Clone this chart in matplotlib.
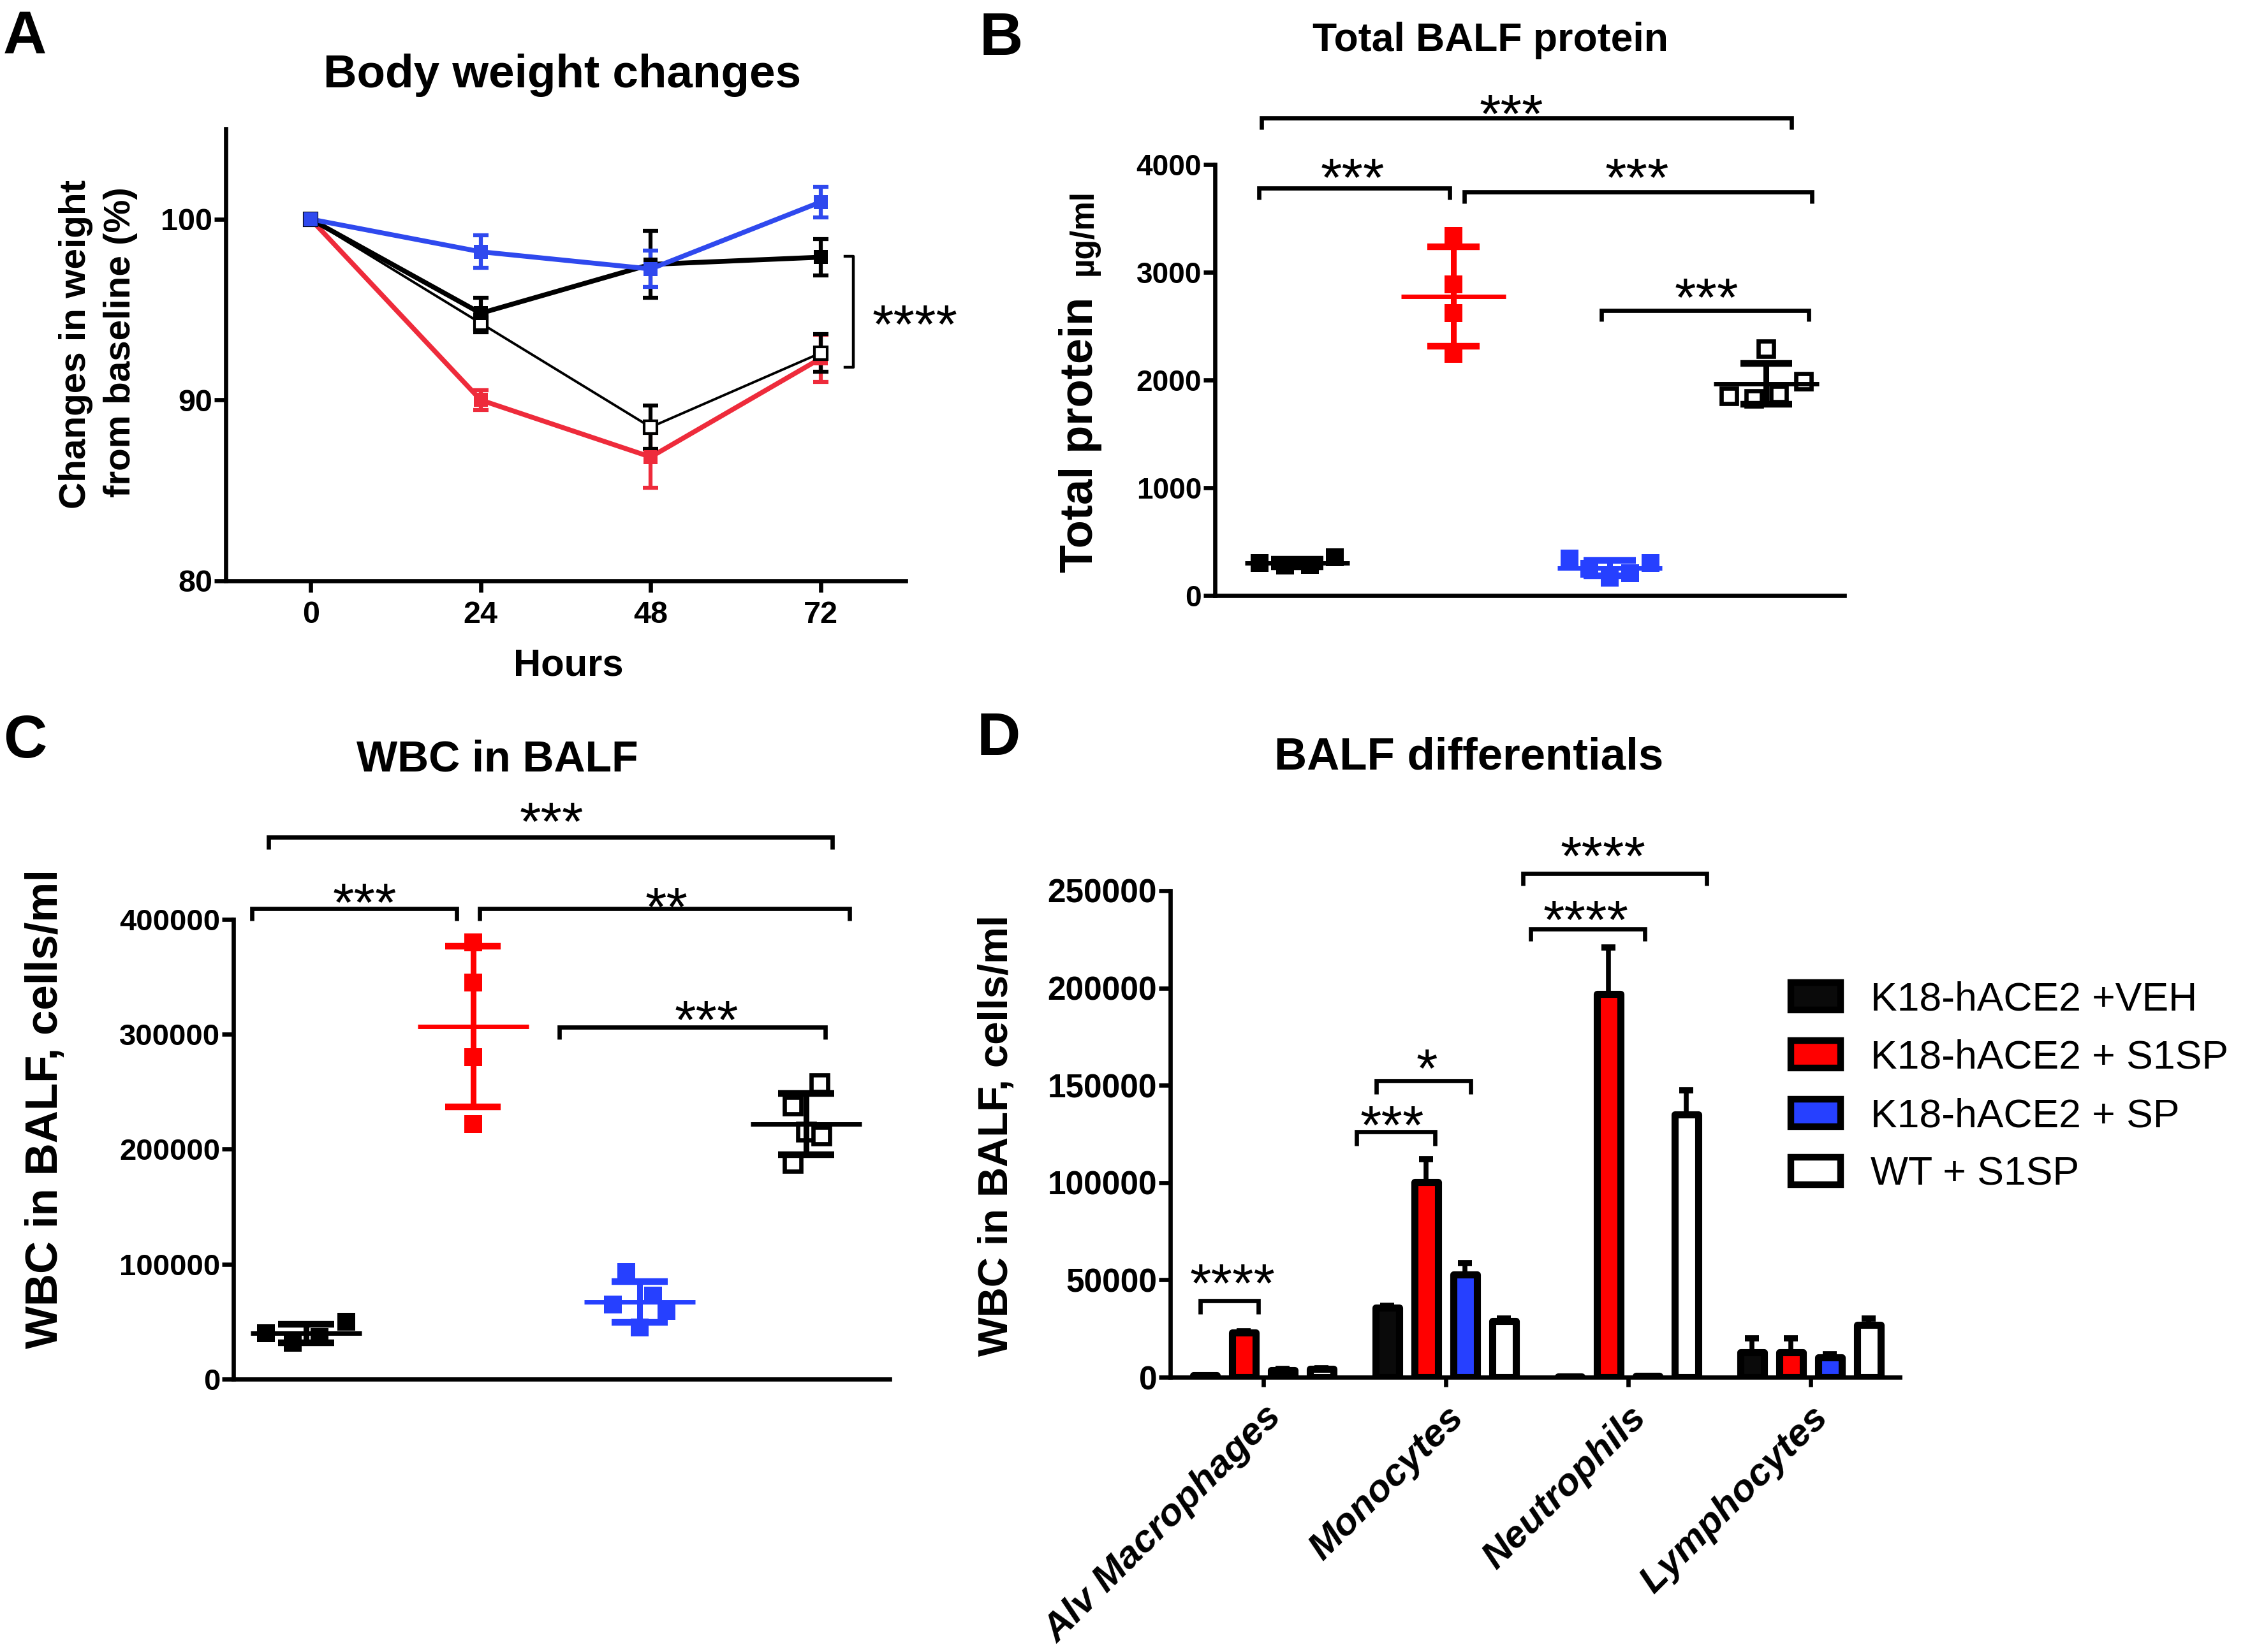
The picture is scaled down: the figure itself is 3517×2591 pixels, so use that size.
import numpy as np
import matplotlib
matplotlib.use("Agg")
import matplotlib.pyplot as plt
from matplotlib.patches import Patch

plt.rcParams['font.family'] = ['Liberation Sans', 'DejaVu Sans']
plt.rcParams['font.weight'] = 'bold'

# ---- data -------------------------------------------------------------
hours = [0, 24, 48, 72]
veh_w = [100, 94.8, 97.5, 97.9]
veh_we = [0, 0.85, 1.85, 1.0]
s1sp_w = [100, 90.0, 86.85, 92.3]
s1sp_we = [0, 0.55, 1.7, 1.3]
sp_w = [100, 98.2, 97.25, 100.95]
sp_we = [0, 0.9, 1.0, 0.85]
wt_w = [100, 94.25, 88.5, 92.6]
wt_we = [0, 0.5, 1.2, 1.05]

prot_veh = [300, 276, 284, 355]
prot_s1sp = [3340, 2890, 2620, 2245]
prot_sp = [346, 247, 168, 209, 302]
prot_wt = [2287, 1851, 1831, 1872, 1991]

wbc_veh = [40000, 31700, 36800, 50200]
wbc_s1sp = [380000, 345000, 280000, 222000]
wbc_sp = [93300, 65000, 72400, 59600, 44800]
wbc_wt = [257200, 237800, 215200, 211800, 187800]

# horizontal spread of the scatter points (as GraphPad draws them)
jit_b = [[-0.24, -0.08, 0.08, 0.24], [0, 0, 0, 0],
         [-0.26, -0.13, 0, 0.13, 0.26], [0, -0.24, -0.08, 0.08, 0.24]]
jit_c = [[-0.24, -0.08, 0.08, 0.24], [0, 0, 0, 0],
         [-0.08, -0.16, 0.08, 0.16, 0], [0.08, -0.08, 0, 0.09, -0.08]]

cells = ['Alv Macrophages', 'Monocytes', 'Neutrophils', 'Lymphocytes']
d_veh = [1000, 35600, 300, 12700]
d_veh_err = [0, 1200, 0, 7300]
d_s1sp = [23000, 100400, 197000, 12700]
d_s1sp_err = [600, 11600, 24000, 7300]
d_sp = [3600, 52800, 500, 10300]
d_sp_err = [600, 5800, 0, 1500]
d_wt = [4200, 28700, 135000, 27000]
d_wt_err = [500, 1600, 12500, 3000]

groups = ['K18-hACE2 +VEH', 'K18-hACE2 + S1SP', 'K18-hACE2 + SP', 'WT + S1SP']

RED_A = '#ee2b3b'
BLUE_A = '#2f49ee'
RED = '#ff0000'
BLUE = '#2640ff'

W, H = 3517, 2591
fig = plt.figure(figsize=(W / 100, H / 100), dpi=100)


def box(l, t, r, b):
    return [l / W, 1 - b / H, (r - l) / W, (b - t) / H]


def ftxt(x, y, s, **kw):
    return fig.text(x / W, 1 - y / H, s, **kw)


def style(ax, size):
    for s in ['top', 'right']:
        ax.spines[s].set_visible(False)
    for s in ['left', 'bottom']:
        ax.spines[s].set_linewidth(4.8)
    ax.tick_params(width=4.8, length=13, labelsize=size, pad=2)


def bracket(ax, x1, x2, y, yd):
    ax.plot([x1, x1, x2, x2], [yd, y, y, yd], color='k', lw=4.8,
            clip_on=False, solid_joinstyle='miter', solid_capstyle='butt')


def stars(ax, x, y, s, ha='center', size=62):
    ax.annotate(s, (x, y), xytext=(0, -0.575 * size), textcoords='offset points',
                ha=ha, va='baseline', fontsize=size, fontweight='normal',
                annotation_clip=False)


def dot_group(ax, g, vals, jit, color, hollow, ms, hw, cw):
    vals = np.asarray(vals, dtype=float)
    x = g + np.asarray(jit)
    if hollow:
        ax.plot(x, vals, 's', ms=ms, mfc='white', mec=color, mew=4.8, ls='none',
                zorder=3, clip_on=False)
    else:
        ax.plot(x, vals, 's', ms=ms, color=color, mew=0, ls='none', zorder=3,
                clip_on=False)
    m, s = vals.mean(), vals.std(ddof=1)
    ax.hlines(m, g - hw, g + hw, color=color, lw=5, zorder=4)
    ax.vlines(g, m - s, m + s, color=color, lw=6.5, zorder=4)
    ax.hlines([m - s, m + s], g - cw, g + cw, color=color, lw=7.5, zorder=4)


# ---- A: body weight ---------------------------------------------------
axA = fig.add_axes(box(354, 202, 1420, 911))
series = [(s1sp_w, s1sp_we, RED_A, False, 5.5), (wt_w, wt_we, 'k', True, 2.8),
          (veh_w, veh_we, 'k', False, 5.5), (sp_w, sp_we, BLUE_A, False, 5.5)]
for vals, err, c, hollow, lw in series:
    axA.plot(hours, vals, color=c, lw=lw, zorder=2)
    axA.errorbar(hours[1:], vals[1:], yerr=err[1:], fmt='none', ecolor=c,
                 elinewidth=4.5, capsize=8.5, capthick=4.5, zorder=3)
    if hollow:
        axA.plot(hours, vals, 's', ms=14, mfc='white', mec=c, mew=3, zorder=4)
    else:
        axA.plot(hours, vals, 's', ms=16, color=c, mew=0, zorder=4)
axA.set_xlim(-12, 84)
axA.set_ylim(80, 105)
axA.set_xticks(hours)
axA.set_yticks([80, 90, 100])
style(axA, 35)
axA.tick_params(axis='x', pad=9)
axA.plot([75.45, 76.6, 76.6, 75.45], [97.95, 97.95, 91.8, 91.8], color='k', lw=3.2,
         clip_on=False)
stars(axA, 79.3, 94.9, '****', ha='left')

ftxt(5, 84, 'A', fontsize=68, ha='left', va='baseline')
ftxt(882, 137, 'Body weight changes', fontsize=52.5, ha='center', va='baseline')
ftxt(134, 540, 'Changes in weight', fontsize=42, rotation=90, rotation_mode='anchor',
     ha='center', va='baseline')
ftxt(204, 537, 'from baseline (%)', fontsize=42, rotation=90, rotation_mode='anchor',
     ha='center', va='baseline')
ftxt(891, 1060, 'Hours', fontsize=43, ha='center', va='baseline')

# ---- B: total protein -------------------------------------------------
axB = fig.add_axes(box(1905, 258, 2892, 934))
prot = [prot_veh, prot_s1sp, prot_sp, prot_wt]
cols = ['k', RED, BLUE, 'k']
for i, vals in enumerate(prot):
    dot_group(axB, i + 1, vals, jit_b[i], cols[i], i == 3,
              17.5 if i == 3 else 19.5, 0.335, 0.167)
axB.set_xlim(0.473, 4.5)
axB.set_ylim(0, 4000)
axB.set_xticks([])
axB.set_yticks([0, 1000, 2000, 3000, 4000])
style(axB, 33)
bracket(axB, 0.771, 4.16, 4432, 4325)
stars(axB, 2.37, 4590, '***')
bracket(axB, 0.755, 1.976, 3781, 3677)
stars(axB, 1.355, 4000, '***')
bracket(axB, 2.07, 4.29, 3745, 3640)
stars(axB, 3.175, 4000, '***')
bracket(axB, 2.947, 4.27, 2647, 2545)
stars(axB, 3.62, 2885, '***')

ftxt(1536, 86, 'B', fontsize=68, ha='left', va='baseline')
ftxt(2337, 80, 'Total BALF protein', fontsize=45, ha='center', va='baseline')
ftxt(1713, 682, 'Total protein', fontsize=52, rotation=90, rotation_mode='anchor',
     ha='center', va='baseline')
ftxt(1713, 365, '\u00b5g/ml', fontsize=37, rotation=90, rotation_mode='anchor',
     ha='center', va='baseline')

# ---- C: WBC -----------------------------------------------------------
axC = fig.add_axes(box(366, 1442, 1395, 2163))
wbc = [wbc_veh, wbc_s1sp, wbc_sp, wbc_wt]
for i, vals in enumerate(wbc):
    dot_group(axC, i + 1, vals, jit_c[i], cols[i], i == 3,
              19 if i == 3 else 20, 0.333, 0.168)
axC.set_xlim(0.563, 4.5)
axC.set_ylim(0, 400000)
axC.set_xticks([])
axC.set_yticks([0, 100000, 200000, 300000, 400000])
style(axC, 34)
bracket(axC, 0.774, 4.155, 471700, 461000)
stars(axC, 2.47, 496000, '***')
bracket(axC, 0.675, 1.903, 409400, 398900)
stars(axC, 1.35, 426000, '***')
bracket(axC, 2.04, 4.26, 409400, 398900)
stars(axC, 3.16, 422000, '**')
bracket(axC, 2.52, 4.115, 306000, 295600)
stars(axC, 3.40, 324000, '***')

ftxt(5, 1188, 'C', fontsize=68, ha='left', va='baseline')
ftxt(780, 1209, 'WBC in BALF', fontsize=49, ha='center', va='baseline')
ftxt(90, 1739, 'WBC in BALF, cells/ml', fontsize=51, rotation=90,
     rotation_mode='anchor', ha='center', va='baseline')

# ---- D: differentials -------------------------------------------------
axD = fig.add_axes(box(1835, 1397, 2979, 2160))
xg = np.arange(len(cells))
bar_vals = [d_veh, d_s1sp, d_sp, d_wt]
bar_errs = [d_veh_err, d_s1sp_err, d_sp_err, d_wt_err]
fills = ['#0a0a0a', RED, BLUE, 'white']
offs = [-1.5, -0.5, 0.5, 1.5]
for k in range(4):
    xb = xg + offs[k] * 0.213
    axD.errorbar(xb, bar_vals[k], yerr=[np.zeros(4), bar_errs[k]], fmt='none',
                 ecolor='k', elinewidth=5.5, capsize=8, capthick=7, zorder=2)
    axD.bar(xb, bar_vals[k], width=0.13, color=fills[k], edgecolor='k',
            linewidth=8, joinstyle='round', zorder=3)
axD.set_xlim(-0.51, 3.49)
axD.set_ylim(0, 250000)
axD.set_yticks([0, 50000, 100000, 150000, 200000, 250000])
axD.set_xticks(xg)
style(axD, 37)
axD.tick_params(axis='x', length=11, pad=14)
axD.set_xticklabels(cells, rotation=45, ha='right', rotation_mode='anchor',
                    fontsize=43.5, fontstyle='italic')
bracket(axD, -0.344, -0.028, 39300, 32400)
stars(axD, -0.169, 54900, '****')
bracket(axD, 0.51, 0.94, 126000, 119000)
stars(axD, 0.708, 136300, '***')
bracket(axD, 0.62, 1.138, 152300, 145400)
stars(axD, 0.897, 165400, '*')
bracket(axD, 1.467, 2.09, 230400, 224200)
stars(axD, 1.77, 241800, '****')
bracket(axD, 1.423, 2.432, 259000, 252600)
stars(axD, 1.862, 274300, '****')

handles = [Patch(facecolor=f, edgecolor='k', linewidth=7.5) for f in fills]
axD.legend(handles, groups, loc='center left', bbox_to_anchor=(2808 / W, 1 - 1705 / H),
           bbox_transform=fig.transFigure, frameon=False, handlelength=1.25,
           handleheight=0.68, handletextpad=0.75, labelspacing=0.52, borderpad=0,
           borderaxespad=0, prop={'size': 45, 'weight': 'normal'})

ftxt(1532, 1184, 'D', fontsize=68, ha='left', va='baseline')
ftxt(2303, 1206, 'BALF differentials', fontsize=51, ha='center', va='baseline')
ftxt(1580, 1781, 'WBC in BALF, cells/ml', fontsize=47, rotation=90,
     rotation_mode='anchor', ha='center', va='baseline')

fig.savefig('out.png', dpi=100)
